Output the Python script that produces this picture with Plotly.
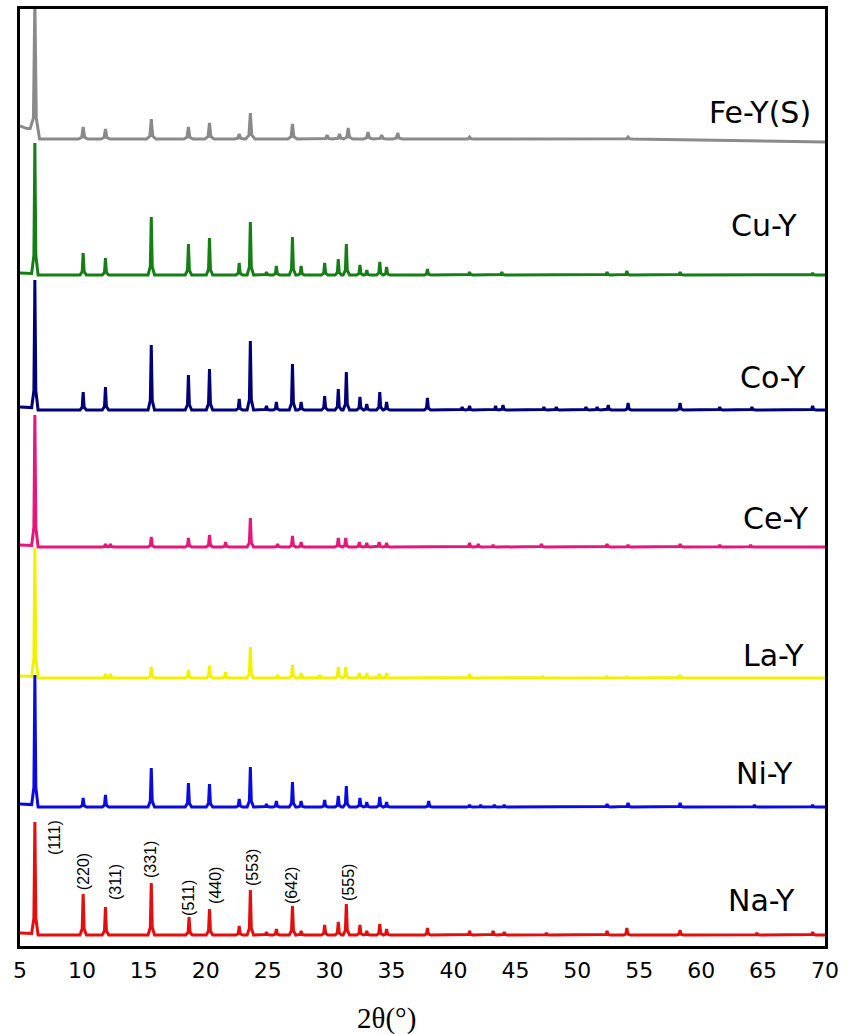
import plotly.graph_objects as go

# ---------------- data ----------------
samples = ["Fe-Y(S)", "Cu-Y", "Co-Y", "Ce-Y", "La-Y", "Ni-Y", "Na-Y"]
colors = ["#8a8a8a", "#157f15", "#00007a", "#e8157d", "#f2f200", "#0a0ae6", "#e60d0d"]
offsets = [807, 671, 536, 399, 268, 139, 11]
# background level at the left end (x=5 .. ~5.6) and at the right end (x=70)
start_level = [13, 2, 3, 2, 2, 3, 2]
end_level = [-3, 0, 0, 0, 0, 0, 0]

fe_pos = [6.2, 10.1, 11.9, 15.6, 18.6, 20.3, 22.7, 23.6, 27.0, 29.8, 30.8, 31.5, 33.1, 34.2, 35.5, 41.3, 54.1]
fe_h = [140, 12, 10, 20, 12, 16, 5, 26, 15, 4, 5, 11, 7, 4, 6, 2, 2]

cu_pos = [6.2, 10.1, 11.9, 15.6, 18.6, 20.3, 22.7, 23.6, 24.9, 25.7, 27.0, 27.7, 29.6, 30.7, 31.35, 32.45, 33.0, 34.05, 34.6,
          37.9, 41.3, 43.9, 52.4, 54.0, 58.3, 69.0]
cu_h = [132, 22, 17, 58, 31, 37, 12, 53, 3, 9, 38, 9, 12, 16, 31, 10, 5, 13, 8,
        6, 3, 3, 3, 4, 3, 2]

co_pos = [6.2, 10.1, 11.9, 15.6, 18.6, 20.3, 22.7, 23.6, 24.9, 25.7, 27.0, 27.7, 29.6, 30.7, 31.35, 32.45, 33.0, 34.05, 34.6,
          37.9, 40.7, 41.3, 43.4, 44.0, 47.3, 48.3, 50.7, 51.6, 52.5, 54.1, 58.3, 61.5, 64.1, 69.0]
co_h = [130, 18, 23, 65, 35, 41, 11, 69, 4, 8, 46, 8, 14, 21, 38, 13, 6, 18, 8,
        12, 3, 4, 4, 5, 3, 3, 3, 3, 5, 7, 7, 3, 3, 4]

ce_pos = [6.2, 11.9, 12.3, 15.6, 18.6, 20.3, 21.6, 23.6, 25.8, 27.0, 27.7, 30.7, 31.3, 32.4, 33.0, 34.0, 34.6,
          41.3, 42.0, 43.2, 47.1, 52.4, 54.1, 58.3, 61.5, 64.0]
ce_h = [132, 3, 3, 10, 9, 12, 5, 29, 3, 11, 5, 9, 9, 5, 4, 5, 4,
        4, 3, 2, 3, 3, 2, 3, 2, 2]

la_pos = [6.2, 11.9, 12.3, 15.6, 18.6, 20.3, 21.6, 23.6, 25.8, 27.0, 27.7, 29.2, 30.7, 31.3, 32.4, 33.0, 34.0, 34.6,
          41.3, 47.2, 52.4, 54.0, 58.3]
la_h = [130, 4, 4, 11, 8, 12, 6, 31, 3, 13, 5, 3, 11, 11, 5, 5, 4, 5,
        4, 2, 2, 1, 3]

ni_pos = [6.2, 10.1, 11.9, 15.6, 18.6, 20.3, 22.7, 23.6, 24.9, 25.7, 27.0, 27.7, 29.6, 30.7, 31.35, 32.45, 33.0, 34.05, 34.6,
          38.0, 41.3, 42.2, 43.3, 44.1, 52.4, 54.1, 58.3, 64.3, 69.0]
ni_h = [132, 9, 12, 39, 24, 23, 8, 40, 3, 6, 25, 6, 7, 11, 21, 9, 5, 10, 5,
        6, 2, 2, 2, 2, 3, 4, 4, 2, 2]

na_pos = [6.2, 10.1, 11.9, 15.6, 18.65, 20.3, 22.7, 23.6, 24.9, 25.7, 27.0, 27.7, 29.6, 30.7, 31.35, 32.45, 33.0, 34.05, 34.6,
          37.9, 41.3, 43.2, 44.1, 47.5, 52.4, 54.0, 58.3, 64.5, 69.0]
na_h = [113, 41, 28, 52, 18, 26, 9, 45, 3, 6, 29, 4, 10, 13, 31, 10, 4, 11, 6,
        7, 4, 4, 3, 2, 4, 7, 5, 2, 3]

peak_positions = [fe_pos, cu_pos, co_pos, ce_pos, la_pos, ni_pos, na_pos]
peak_heights = [fe_h, cu_h, co_h, ce_h, la_h, ni_h, na_h]

hkl_labels = ["(111)", "(220)", "(311)", "(331)", "(511)", "(440)", "(553)", "(642)", "(555)"]
hkl_x = [7.75, 10.1, 12.67, 15.5, 18.56, 20.74, 23.73, 26.88, 31.48]
hkl_y = [108, 74, 64, 86, 48, 61, 79, 61, 64]

label_x = [69.03, 67.9, 68.6, 68.87, 68.46, 67.58, 67.74]
label_y = [834, 721, 569, 428, 291, 173, 46]

x_ticks = list(range(5, 75, 5))

# -------------- figure ---------------
half_widths = [0.38, 0.26, 0.26, 0.26, 0.26, 0.26, 0.26]

fig = go.Figure()
for i, name in enumerate(samples):
    base = offsets[i]
    w = half_widths[i]
    xs = [5.0, 5.55]
    ys = [base + start_level[i], base + start_level[i] * 0.8]
    for j, (p, h) in enumerate(zip(peak_positions[i], peak_heights[i])):
        left_foot = ys[-1] if j == 0 else base
        xs += [p - w, p - 0.3 * w, p, p + 0.3 * w, p + w]
        ys += [left_foot, base + 0.15 * h, base + h, base + 0.15 * h, base]
    xs.append(70.0)
    ys.append(base + end_level[i])
    fig.add_trace(go.Scatter(x=xs, y=ys, mode="lines", name=name,
                             line=dict(color=colors[i], width=3),
                             showlegend=False, hoverinfo="skip"))
    fig.add_annotation(x=label_x[i], y=label_y[i], text=name, showarrow=False,
                       xanchor="right", yanchor="middle",
                       font=dict(family="DejaVu Sans", size=30, color="black"))

for t, hx, hy in zip(hkl_labels, hkl_x, hkl_y):
    fig.add_annotation(x=hx, y=hy, text=t, showarrow=False, textangle=-90,
                       xanchor="center", yanchor="middle",
                       font=dict(family="Liberation Sans", size=16, color="black"))

fig.add_annotation(x=34.6, y=-0.077, xref="x", yref="paper", text="2θ(°)",
                   showarrow=False, xanchor="center", yanchor="middle",
                   font=dict(family="Liberation Serif", size=29, color="black"))

fig.update_xaxes(range=[5, 70], tickvals=x_ticks, ticktext=[str(v) for v in x_ticks],
                 showgrid=False, zeroline=False, showline=True, mirror=True, automargin=False,
                 linecolor="black", linewidth=2.5, ticks="outside", ticklen=3, tickcolor="rgba(0,0,0,0)",
                 tickfont=dict(family="DejaVu Sans", size=22, color="black"))
fig.update_yaxes(range=[0, 937], showgrid=False, zeroline=False, showline=True, mirror=True, automargin=False,
                 linecolor="black", linewidth=2.5, showticklabels=False, ticks="")

fig.update_layout(width=846, height=1034, margin=dict(l=20, r=21, t=9, b=88, autoexpand=False),
                  paper_bgcolor="white", plot_bgcolor="white")

fig.write_html("out.html", config={"displayModeBar": False},
               post_script="document.body.style.margin='0';document.body.style.overflow='hidden';")
